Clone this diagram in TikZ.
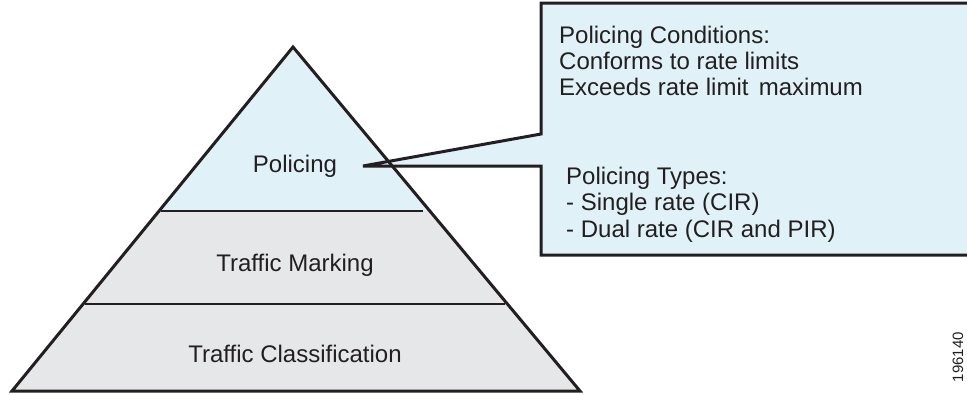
\documentclass[tikz,border=0pt]{standalone}
\usepackage{fontspec}
\setmainfont{Liberation Sans}
\usetikzlibrary{calc}
\definecolor{lblue}{HTML}{E0F1F8}
\definecolor{lgray}{HTML}{E6E7E8}
\definecolor{ink}{HTML}{231F20}
\begin{document}
\begin{tikzpicture}[x=1pt,y=-1pt,
  outline/.style={draw=ink,line width=3pt,line join=miter},
  divider/.style={draw=ink,line width=2.5pt},
  lbl/.style={font=\fontsize{24}{27}\selectfont,text=ink,inner sep=0pt},
  idlbl/.style={font=\fontsize{15}{15}\selectfont,text=ink,inner sep=0pt,rotate=90}]
\useasboundingbox (0,0) rectangle (967,394);
% pyramid geometry
\coordinate (apex) at (293,47);
\coordinate (bl) at (12,391);
\coordinate (br) at (580,391);
\coordinate (l1) at ($(apex)!0.4767!(bl)$);
\coordinate (r1) at ($(apex)!0.4767!(br)$);
% fills
\fill[lblue] (apex) -- (r1) -- (l1) -- cycle;
\fill[lgray] (l1) -- (r1) -- (br) -- (bl) -- cycle;
% callout
\coordinate (tip) at (363,166);
\coordinate (ctl) at (541,3);
\coordinate (ctr) at (980,3);
\coordinate (cbl) at (541,255);
\coordinate (cbr) at (980,255);
\coordinate (cp1) at (541,134);
\coordinate (cp2) at (541,166);
\filldraw[fill=lblue,outline] (ctr) -- (ctl) -- (cp1) -- (tip) -- (cp2) -- (cbl) -- (cbr) -- cycle;
% pyramid outline and dividers
\draw[outline] (apex) -- (br) -- (bl) -- cycle;
\coordinate (d1a) at (161,211);
\coordinate (d1b) at (423,211);
\coordinate (d2a) at (85,304);
\coordinate (d2b) at (505,304);
\draw[divider] (d1a) -- (d1b);
\draw[divider] (d2a) -- (d2b);
% pyramid labels
\node[lbl,anchor=base] (pol) at (295,172) {Policing};
\node[lbl,anchor=base] (mark) at (295,271) {Traffic Marking};
\node[lbl,anchor=base] (cls) at (295,362) {Traffic Classification};
% callout text
\node[lbl,anchor=base west] (c1) at (559,43) {Policing Conditions:};
\node[lbl,anchor=base west] (c2) at (559,69) {Conforms to rate limits};
\node[lbl,anchor=base west] (c3) at (559,95) {Exceeds rate limit\hspace{0.15em} maximum};
\node[lbl,anchor=base west] (t1) at (566,184) {Policing Types:};
\node[lbl,anchor=base west] (t2) at (566,210) {- Single rate (CIR)};
\node[lbl,anchor=base west] (t3) at (566,237) {- Dual rate (CIR and PIR)};
% figure id
\node[idlbl] (fid) at (958,357) {196140};
\end{tikzpicture}
\end{document}
